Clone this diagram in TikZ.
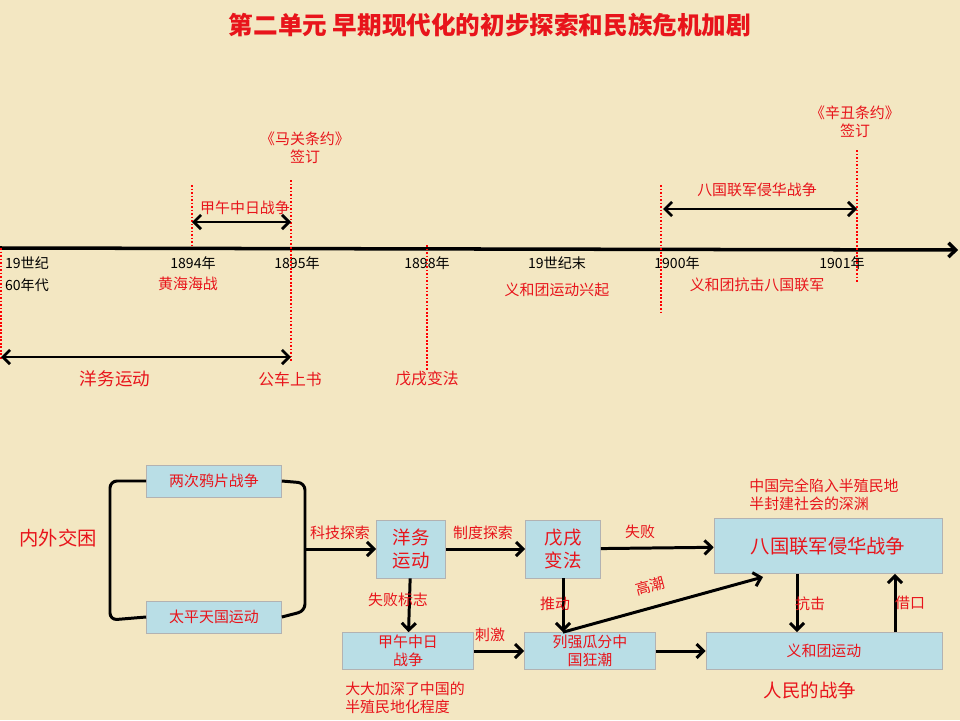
\documentclass[tikz,border=0pt]{standalone}
\usepackage{fontspec}
\setmainfont{Noto Sans CJK SC}
\usetikzlibrary{arrows.meta}
\definecolor{bg}{HTML}{F3E7C2}
\definecolor{boxblue}{HTML}{B9DEE6}
\definecolor{txtred}{HTML}{E8141B}
\tikzset{
  red label/.style={text=txtred,font=\fontsize{8.5}{10}\selectfont,align=center,inner sep=1pt},
  year/.style={font=\fontsize{8}{9}\selectfont,inner sep=1pt},
  period/.style={red,densely dotted,line width=1pt},
  span/.style={{Straight Barb[length=4pt]}-{Straight Barb[length=4pt]},line width=1.6pt},
  flow/.style={-{Straight Barb[length=4pt]},line width=1.7pt},
  event/.style={draw=gray!60,fill=boxblue,text=txtred,font=\fontsize{8.5}{10}\selectfont,align=center,inner sep=1pt}
}
\begin{document}
\begin{tikzpicture}[x=0.02cm,y=-0.02cm]
	\fill [bg] (0,0) rectangle (960,720);
	\useasboundingbox (0,0) rectangle (960,720);
	\node (title) [text=txtred,font=\bfseries\fontsize{14}{16}\selectfont] at (490,25) {第二单元 早期现代化的初步探索和民族危机加剧};
	% timeline
		\coordinate (t0) at (0,248);
		\coordinate (t1) at (958,250);
		\draw [flow,line width=2pt] (t0) -- (t1);
	% years
		\node (y60a) [year] at (27,263) {19世纪};
		\node (y60b) [year] at (27,285) {60年代};
		\node (y94) [year] at (193,263) {1894年};
		\node (y95) [year] at (297,263) {1895年};
		\node (y98) [year] at (427,263) {1898年};
		\node (yend) [year] at (557,263) {19世纪末};
		\node (y00) [year] at (677,263) {1900年};
		\node (y01) [year] at (842,263) {1901年};
	% dotted marks
		\draw [period] (1,248) -- (1,360);
		\draw [period] (192,185) -- (192,248);
		\draw [period] (291,180) -- (291,362);
		\draw [period] (427,245) -- (427,370);
		\draw [period] (661,185) -- (661,313);
		\draw [period] (857,150) -- (857,283);
	% events on the timeline
		\node (huanghai) [red label] at (188,284) {黄海海战};
		\node (yhtrise) [red label] at (557,290) {义和团运动兴起};
		\node (yhtfight) [red label] at (757,285) {义和团抗击八国联军};
		\node (maguan) [red label] at (305,148) {《马关条约》\\签订};
		\node (xinchou) [red label] at (855,122) {《辛丑条约》\\签订};
		\coordinate (j0) at (192,222); \coordinate (j1) at (291,222);
		\draw [span] (j0) -- (j1);
		\node (jiawu) [red label] at (245,208) {甲午中日战争};
		\coordinate (b0) at (663,209); \coordinate (b1) at (857,209);
		\draw [span] (b0) -- (b1);
		\node (baguo) [red label] at (757,190) {八国联军侵华战争};
		\coordinate (w0) at (1,357); \coordinate (w1) at (291,357);
		\draw [span] (w0) -- (w1);
		\node (yangwu) [red label,font=\fontsize{10}{12}\selectfont] at (115,379) {洋务运动};
		\node (gongche) [red label,font=\fontsize{9}{11}\selectfont] at (290,379) {公车上书};
		\node (wuxu) [red label,font=\fontsize{9}{11}\selectfont] at (427,379) {戊戌变法};
	% flow chart
		\node (opium) [event,minimum width=2.7cm,minimum height=0.64cm] at (214,481) {两次鸦片战争};
		\node (taiping) [event,minimum width=2.7cm,minimum height=0.64cm] at (214,617) {太平天国运动};
		\node (crisis) [red label,font=\fontsize{11}{13}\selectfont] at (58,538) {内外交困};
		\draw [line width=1.7pt,rounded corners=4pt] (opium.west) -- (110,481) -- (110,620) -- (taiping.west);
		\draw [line width=1.7pt,rounded corners=4pt] (opium.east) -- (305,483) -- (305,611) -- (taiping.east);
		\coordinate (brk) at (305,549);
		\node (ywbox) [event,minimum width=1.38cm,minimum height=1.16cm,font=\fontsize{10.5}{13}\selectfont] at (411,549) {洋务\\运动};
		\node (wxbox) [event,minimum width=1.5cm,minimum height=1.16cm,font=\fontsize{10.5}{13}\selectfont] at (563,549) {戊戌\\变法};
		\node (bgbox) [event,minimum width=4.56cm,minimum height=1.1cm,font=\fontsize{11}{13}\selectfont] at (828,546) {八国联军侵华战争};
		\node (jwbox) [event,minimum width=2.62cm,minimum height=0.74cm] at (408,651) {甲午中日\\战争};
		\node (lqbox) [event,minimum width=2.62cm,minimum height=0.74cm] at (590,651) {列强瓜分中\\国狂潮};
		\node (yhbox) [event,minimum width=4.72cm,minimum height=0.74cm] at (824,651) {义和团运动};
		\draw [flow] (brk) -- (ywbox);
		\draw [flow] (ywbox) -- (wxbox);
		\draw [flow] (wxbox) -- (bgbox);
		\draw [flow] (ywbox) -- (jwbox);
		\draw [flow] (jwbox) -- (lqbox);
		\draw [flow] (wxbox) -- (wxbox |- lqbox.north);
		\draw [flow] (lqbox.north -| wxbox) -- (763,577);
		\draw [flow] (lqbox) -- (yhbox);
		\draw [flow] (bgbox.south -| 797,0) -- (yhbox.north -| 797,0);
		\draw [flow] (yhbox.north -| 895,0) -- (bgbox.south -| 895,0);
		\node (keji) [red label] at (340,533) {科技探索};
		\node (zhidu) [red label] at (483,533) {制度探索};
		\node (fail) [red label] at (640,532) {失败};
		\node (failsign) [red label] at (398,600) {失败标志};
		\node (ciji) [red label] at (490,635) {刺激};
		\node (tuidong) [red label] at (555,604) {推动};
		\node (gaochao) [red label,rotate=15] at (650,586) {高潮};
		\node (kangji) [red label] at (810,604) {抗击};
		\node (jiekou) [red label] at (910,603) {借口};
		\node (abyss) [red label,align=left] at (824,495) {中国完全陷入半殖民地\\半封建社会的深渊};
		\node (deepen) [red label,align=left] at (405,698) {大大加深了中国的\\半殖民地化程度};
		\node (people) [red label,font=\fontsize{10.5}{12}\selectfont] at (810,690) {人民的战争};
\end{tikzpicture}
\end{document}
